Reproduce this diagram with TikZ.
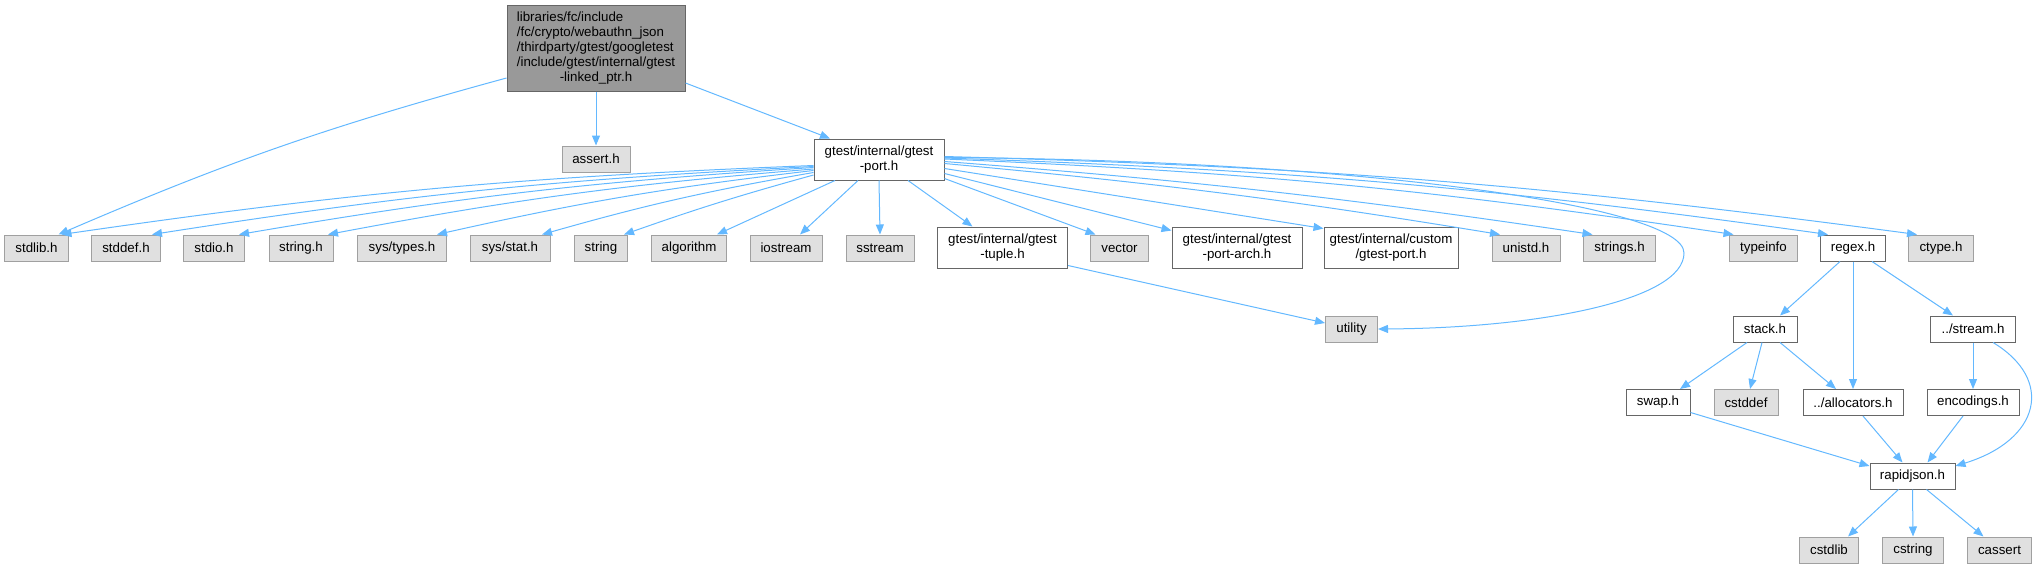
\documentclass[tikz,border=0pt]{standalone}
\usepackage{fontspec}
\setmainfont{Liberation Sans}
\usetikzlibrary{arrows.meta,calc}
\definecolor{edgec}{HTML}{63B8FF}
\definecolor{grayfill}{HTML}{E0E0E0}
\definecolor{grayline}{HTML}{A0A0A0}
\definecolor{darkline}{HTML}{666666}
\definecolor{rootfill}{HTML}{999999}
\begin{document}
\begin{tikzpicture}[x=1pt,y=-1pt,
  base/.style={draw, line width=1pt, inner sep=0pt, align=center, font=\fontsize{13.3}{15}\selectfont, text=black},
  sysbox/.style={base, draw=grayline, fill=grayfill, minimum height=26pt},
  hdr/.style={base, draw=darkline, fill=white, minimum height=26pt},
  hdrtwo/.style={base, draw=darkline, fill=white, minimum height=41pt},
  rootbox/.style={base, draw=darkline, fill=rootfill, minimum height=86pt},
  edge/.style={draw=edgec, line width=1pt, -{Triangle[length=10pt,width=8pt]}}
]
\useasboundingbox (0,0) rectangle (2040,568);
% top
\node[rootbox, minimum width=178pt] (root) at (596,48) {\begin{tabular}{@{}l@{}}libraries/fc/include\\/fc/crypto/webauthn\_json\\/thirdparty/gtest/googletest\\/include/gtest/internal/gtest\\\multicolumn{1}{@{}c@{}}{-linked\_ptr.h}\end{tabular}};
\node[sysbox, minimum width=68pt] (assert) at (596,159) {assert.h};
\node[hdrtwo, minimum width=130pt] (port) at (879,159.5) {gtest/internal/gtest\\-port.h};
% row 2
\node[sysbox, minimum width=64pt] (stdlib) at (36.5,248) {stdlib.h};
\node[sysbox, minimum width=69pt] (stddef) at (126,248) {stddef.h};
\node[sysbox, minimum width=61pt] (stdio) at (214,248) {stdio.h};
\node[sysbox, minimum width=64pt] (stringh) at (301,248) {string.h};
\node[sysbox, minimum width=89pt] (systypes) at (402,248) {sys/types.h};
\node[sysbox, minimum width=80pt] (sysstat) at (510,248) {sys/stat.h};
\node[sysbox, minimum width=53pt] (string) at (601,248) {string};
\node[sysbox, minimum width=75pt] (algorithm) at (689,248) {algorithm};
\node[sysbox, minimum width=72pt] (iostream) at (786,248) {iostream};
\node[sysbox, minimum width=68pt] (sstream) at (880,248) {sstream};
\node[hdrtwo, minimum width=130pt] (tuple) at (1002.5,247.5) {gtest/internal/gtest\\-tuple.h};
\node[sysbox, minimum width=58pt] (vector) at (1119.5,248) {vector};
\node[hdrtwo, minimum width=130pt] (portarch) at (1237,247.5) {gtest/internal/gtest\\-port-arch.h};
\node[hdrtwo, minimum width=134pt] (custom) at (1391,247.5) {gtest/internal/custom\\/gtest-port.h};
\node[sysbox, minimum width=68pt] (unistd) at (1526,248) {unistd.h};
\node[sysbox, minimum width=72pt] (strings) at (1619.5,248) {strings.h};
\node[sysbox, minimum width=68pt] (typeinfo) at (1763.5,248) {typeinfo};
\node[hdr, minimum width=65pt] (regex) at (1853,248) {regex.h};
\node[sysbox, minimum width=65pt] (ctype) at (1941,248) {ctype.h};
% row 3
\node[sysbox, minimum width=52pt] (utility) at (1351.5,329) {utility};
\node[hdr, minimum width=64pt] (stack) at (1765,329) {stack.h};
\node[hdr, minimum width=85pt] (stream) at (1973,329) {../stream.h};
% row 4
\node[hdr, minimum width=64pt] (swap) at (1658,402.5) {swap.h};
\node[sysbox, minimum width=64pt] (cstddef) at (1746,402.5) {cstddef};
\node[hdr, minimum width=100pt] (alloc) at (1853,402.5) {../allocators.h};
\node[hdr, minimum width=92pt] (encodings) at (1973,402.5) {encodings.h};
% row 5, 6
\node[hdr, minimum width=85pt] (rapidjson) at (1912.5,476) {rapidjson.h};
\node[sysbox, minimum width=59pt] (cstdlib) at (1829,550) {cstdlib};
\node[sysbox, minimum width=61pt] (cstring) at (1913,550) {cstring};
\node[sysbox, minimum width=64pt] (cassert) at (1999.5,550) {cassert};

% root edges
\draw[edge] ($(root.west)+(0,30)$) to[bend right=4] ($(stdlib.north)+(22,0)$);
\draw[edge] (root.south) -- (assert.north);
\draw[edge] ($(root.east)+(0,35)$) -- ($(port.north)+(-49,0)$);
% port left fan
\draw[edge] ($(port.west)+(0,6)$) to[bend right=3] ($(stdlib.north)+(25,0)$);
\draw[edge] ($(port.west)+(0,7)$) to[bend right=3] ($(stddef.north)+(26,0)$);
\draw[edge] ($(port.west)+(0,8)$) to[bend right=3] ($(stdio.north)+(25,0)$);
\draw[edge] ($(port.west)+(0,9.5)$) to[bend right=3] ($(stringh.north)+(27,0)$);
\draw[edge] ($(port.west)+(0,11)$) to[bend right=3] ($(systypes.north)+(35,0)$);
\draw[edge] ($(port.west)+(0,13)$) to[bend right=3] ($(sysstat.north)+(32,0)$);
\draw[edge] ($(port.west)+(0,15.5)$) to[bend right=2] ($(string.north)+(23,0)$);
\draw[edge] ($(port.south)+(-44,0)$) -- ($(algorithm.north)+(28,0)$);
\draw[edge] ($(port.south)+(-21,0)$) -- ($(iostream.north)+(14,0)$);
\draw[edge] (port.south) -- (sstream.north);
\draw[edge] ($(port.south)+(29,0)$) -- ($(tuple.north)+(-30,0)$);
% port right fan
\draw[edge] ($(port.east)+(0,19)$) -- ($(vector.north)+(-24,0)$);
\draw[edge] ($(port.east)+(0,14)$) -- ($(portarch.west)+(0,-17)$);
\draw[edge] ($(port.east)+(0,9)$) -- ($(custom.west)+(0,-19)$);
\draw[edge] ($(port.east)+(0,4)$) to[bend left=2] ($(unistd.north)+(-26,0)$);
\draw[edge] ($(port.east)+(0,2)$) to[bend left=2] ($(strings.north)+(-27,0)$);
\draw[edge] ($(port.east)+(0,-0.5)$) to[bend left=3] ($(typeinfo.north)+(-30,0)$);
\draw[edge] ($(port.east)+(0,-1.5)$) to[bend left=3] ($(regex.north)+(-25,0)$);
\draw[edge] ($(port.east)+(0,-3)$) to[bend left=3] ($(ctype.north)+(-24,0)$);
\draw[edge] ($(port.east)+(0,-2)$) .. controls (1350,160) and (1684,205) .. (1684,253) .. controls (1684,300) and (1540,328) .. (utility.east);
\draw[edge] ($(tuple.east)+(0,18)$) -- ($(utility.west)+(0,-6)$);
% regex subtree
\draw[edge] ($(regex.south)+(-13,0)$) -- ($(stack.north)+(15,0)$);
\draw[edge] (regex.south) -- (alloc.north);
\draw[edge] ($(regex.south)+(19,0)$) -- ($(stream.north)+(-20,0)$);
\draw[edge] ($(stack.south)+(-18,0)$) -- ($(swap.north)+(22,0)$);
\draw[edge] ($(stack.south)+(-3,0)$) -- ($(cstddef.north)+(4,0)$);
\draw[edge] ($(stack.south)+(15,0)$) -- ($(alloc.north)+(-17,0)$);
\draw[edge] (stream.south) -- (encodings.north);
\draw[edge] ($(stream.south)+(20,0)$) .. controls (2055,380) and (2040,440) .. ($(rapidjson.east)+(0,-10)$);
\draw[edge] ($(swap.east)+(0,10)$) -- ($(rapidjson.west)+(0,-10)$);
\draw[edge] ($(alloc.south)+(10,0)$) -- ($(rapidjson.north)+(-10,0)$);
\draw[edge] ($(encodings.south)+(-10,0)$) -- ($(rapidjson.north)+(15,0)$);
\draw[edge] ($(rapidjson.south)+(-14,0)$) -- ($(cstdlib.north)+(19,0)$);
\draw[edge] (rapidjson.south) -- (cstring.north);
\draw[edge] ($(rapidjson.south)+(14,0)$) -- ($(cassert.north)+(-16,0)$);
\end{tikzpicture}
\end{document}
